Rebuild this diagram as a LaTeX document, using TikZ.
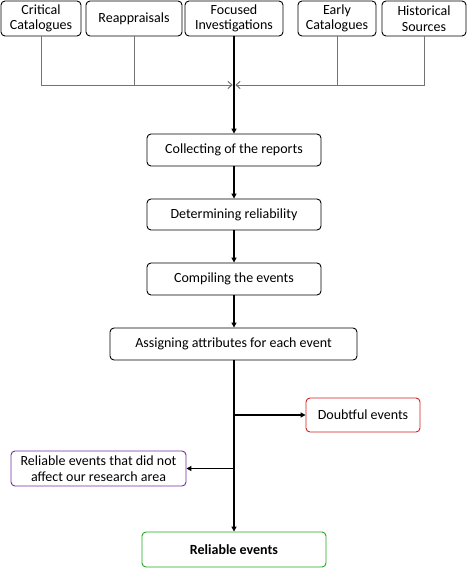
\documentclass[tikz,border=0pt]{standalone}
\usepackage{fontspec}
\setmainfont{Carlito}
\usetikzlibrary{arrows.meta}
\tikzset{
  pbox/.style={draw=black, line width=0.9pt, rounded corners=4pt, align=center, inner sep=1pt, font=\fontsize{14}{15.5}\selectfont},
  feed/.style={draw=black!55, line width=0.7pt, shorten >=1.5pt, -{Straight Barb[length=4pt,width=7pt]}},
  flow/.style={draw=black, line width=1.2pt, -{Triangle[length=5pt,width=5pt]}},
}
\begin{document}
\begin{tikzpicture}[x=1pt,y=-1pt]
\useasboundingbox (0,0) rectangle (468,569);
\node[pbox, minimum width=80pt, minimum height=35pt] (crit) at (41,18.5) {Critical\\Catalogues};
\node[pbox, minimum width=96pt, minimum height=35pt] (reap) at (134,18.5) {Reappraisals};
\node[pbox, minimum width=98pt, minimum height=35pt] (foc) at (234,18.5) {Focused\\Investigations};
\node[pbox, minimum width=78pt, minimum height=35pt] (early) at (337,18.5) {Early\\Catalogues};
\node[pbox, minimum width=84pt, minimum height=35pt] (hist) at (424,18.5) {Historical\\Sources};
\node[pbox, minimum width=174pt, minimum height=32pt] (coll) at (234,150) {Collecting of the reports};
\node[pbox, minimum width=174pt, minimum height=31pt] (det) at (234,214.5) {Determining reliability};
\node[pbox, minimum width=174pt, minimum height=32pt] (comp) at (234,279) {Compiling the events};
\node[pbox, minimum width=247pt, minimum height=32pt] (assign) at (233.5,344) {Assigning attributes for each event};
\node[pbox, draw={rgb,255:red,210;green,30;blue,30}, minimum width=114pt, minimum height=34pt] (doubt) at (363,415) {Doubtful events};
\node[pbox, draw={rgb,255:red,112;green,48;blue,160}, minimum width=175pt, minimum height=35pt] (relno) at (98.5,468.5) {Reliable events that did not\\affect our research area};
\node[pbox, draw={rgb,255:red,30;green,170;blue,30}, minimum width=184pt, minimum height=35pt, font=\fontsize{14}{15.5}\selectfont\bfseries] (rel) at (234,549.5) {Reliable events};
\coordinate (J) at (234,85);
\draw[feed] (crit.south) |- (J);
\draw[feed] (reap.south) |- (J);
\draw[feed] (early.south) |- (J);
\draw[feed] (hist.south) |- (J);
\draw[flow] (foc.south) -- (coll.north);
\draw[flow] (coll.south) -- (det.north);
\draw[flow] (det.south) -- (comp.north);
\draw[flow] (comp.south) -- (comp.south |- assign.north);
\draw[flow] (comp.south |- assign.south) -- (rel.north);
\coordinate (bd) at (rel.north |- doubt.west);
\coordinate (br) at (rel.north |- relno.east);
\draw[flow] (bd) -- (doubt.west);
\draw[flow] (br) -- (relno.east);
\end{tikzpicture}
\end{document}
